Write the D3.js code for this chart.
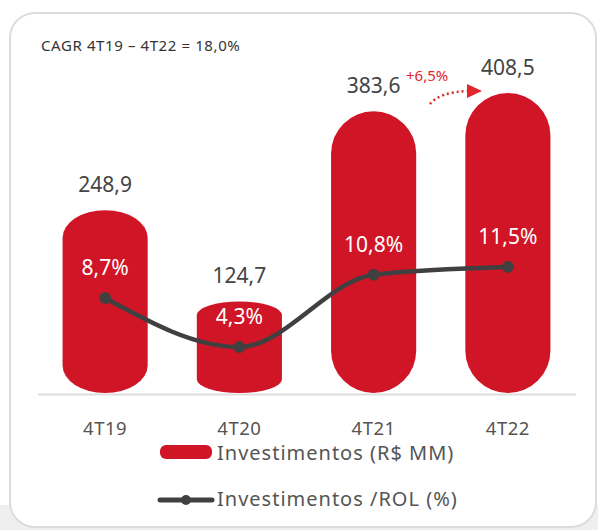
<!DOCTYPE html>
<html>
<head>
<meta charset="utf-8">
<script src="https://cdn.jsdelivr.net/npm/d3@7"></script>
<style>
  body { margin: 0; background: #fff; }
  svg { display: block; font-family: "Noto Sans", sans-serif; }
</style>
</head>
<body>
<div id="container"></div>
<script>
// Data
const quarters = ["4T19", "4T20", "4T21", "4T22"];
const investimentos = [248.9, 124.7, 383.6, 408.5];
const investRol = [8.7, 4.3, 10.8, 11.5];

const fmt = v => d3.format(".1f")(v).replace(".", ",");

const width = 598, height = 530;
const baseline = 393;

const svg = d3.select("#container")
  .append("svg")
  .attr("width", width)
  .attr("height", height);

// background + card
svg.append("rect")
  .attr("x", 0).attr("y", 505).attr("width", width).attr("height", 25)
  .attr("fill", "#efefef");
svg.append("rect")
  .attr("x", 10).attr("y", 13)
  .attr("width", 586).attr("height", 514)
  .attr("rx", 25)
  .attr("fill", "#fff")
  .attr("stroke", "#dcdcdc")
  .attr("stroke-width", 2);

svg.append("text")
  .attr("x", 41).attr("y", 51)
  .attr("font-size", 15)
  .attr("letter-spacing", 0.6)
  .attr("fill", "#333")
  .text("CAGR 4T19 \u2013 4T22 = 18,0%");

// Scales
const x = d3.scaleBand()
  .domain(quarters)
  .range([38, 575])
  .paddingInner(0.366)
  .paddingOuter(0.183);

const y = d3.scaleLinear()
  .domain([0, 408.5])
  .range([baseline, 93]);

const y2 = d3.scaleLinear()
  .domain([0, 27])
  .range([395, 94.2]);

const cx = d => x(d) + x.bandwidth() / 2;

// axis baseline
svg.append("line")
  .attr("x1", 38).attr("x2", 576)
  .attr("y1", baseline + 1.5).attr("y2", baseline + 1.5)
  .attr("stroke", "#ddd")
  .attr("stroke-width", 2);

// bars: pill-shaped (elliptical ends)
function pill(x0, y0, w, h) {
  const rx = w / 2;
  const ry = Math.min(rx, h * 0.15);
  return "M" + x0 + "," + (y0 + ry) +
    "A" + rx + "," + ry + " 0 0 1 " + (x0 + w) + "," + (y0 + ry) +
    "L" + (x0 + w) + "," + (y0 + h - ry) +
    "A" + rx + "," + ry + " 0 0 1 " + x0 + "," + (y0 + h - ry) + "Z";
}

const bars = quarters.map((q, i) => ({ q: q, v: investimentos[i], p: investRol[i] }));

svg.append("g")
  .selectAll("path")
  .data(bars)
  .enter()
  .append("path")
  .attr("d", d => pill(x(d.q), y(d.v), x.bandwidth(), baseline - y(d.v)))
  .attr("fill", "#d01527");

// value labels
svg.append("g")
  .selectAll("text")
  .data(bars)
  .enter()
  .append("text")
  .attr("x", d => cx(d.q))
  .attr("y", d => y(d.v) - 18)
  .attr("text-anchor", "middle")
  .attr("font-size", 21)
  .attr("fill", "#444")
  .text(d => fmt(d.v));

// line
const line = d3.line()
  .x(d => cx(d.q))
  .y(d => y2(d.p))
  .curve(d3.curveMonotoneX);

svg.append("path")
  .datum(bars)
  .attr("d", line)
  .attr("fill", "none")
  .attr("stroke", "#404040")
  .attr("stroke-width", 4.5);

svg.append("g")
  .selectAll("circle")
  .data(bars)
  .enter()
  .append("circle")
  .attr("cx", d => cx(d.q))
  .attr("cy", d => y2(d.p))
  .attr("r", 6)
  .attr("fill", "#404040");

// percent labels
svg.append("g")
  .selectAll("text")
  .data(bars)
  .enter()
  .append("text")
  .attr("x", d => cx(d.q))
  .attr("y", d => y2(d.p) - 23)
  .attr("text-anchor", "middle")
  .attr("font-size", 21)
  .attr("fill", "#fff")
  .text(d => fmt(d.p) + "%");

// x labels
svg.append("g")
  .selectAll("text")
  .data(quarters)
  .enter()
  .append("text")
  .attr("x", d => cx(d))
  .attr("y", 435)
  .attr("text-anchor", "middle")
  .attr("font-size", 18.5)
  .attr("letter-spacing", 0.5)
  .attr("fill", "#555")
  .text(d => d);

// growth annotation
svg.append("text")
  .attr("x", 406).attr("y", 81)
  .attr("font-size", 15)
  .attr("fill", "#e3262b")
  .text("+6,5%");
svg.append("path")
  .attr("d", "M430,104 Q440,92 468,91")
  .attr("fill", "none")
  .attr("stroke", "#e3262b")
  .attr("stroke-width", 2.5)
  .attr("stroke-dasharray", "2,3");
svg.append("path")
  .attr("d", "M467,84 L482,91 L467,98 Z")
  .attr("fill", "#e3262b");

// legend
const legend = svg.append("g");
legend.append("rect")
  .attr("x", 160).attr("y", 445)
  .attr("width", 52).attr("height", 14)
  .attr("rx", 6)
  .attr("fill", "#d01527");
legend.append("text")
  .attr("x", 217).attr("y", 460)
  .attr("font-size", 20)
  .attr("letter-spacing", 1)
  .attr("fill", "#555")
  .text("Investimentos (R$ MM)");
legend.append("line")
  .attr("x1", 160).attr("x2", 212)
  .attr("y1", 500).attr("y2", 500)
  .attr("stroke", "#404040")
  .attr("stroke-width", 5)
  .attr("stroke-linecap", "round");
legend.append("circle")
  .attr("cx", 186).attr("cy", 500).attr("r", 5)
  .attr("fill", "#404040");
legend.append("text")
  .attr("x", 217).attr("y", 506)
  .attr("font-size", 20)
  .attr("letter-spacing", 1)
  .attr("fill", "#555")
  .text("Investimentos /ROL (%)");
</script>
</body>
</html>
